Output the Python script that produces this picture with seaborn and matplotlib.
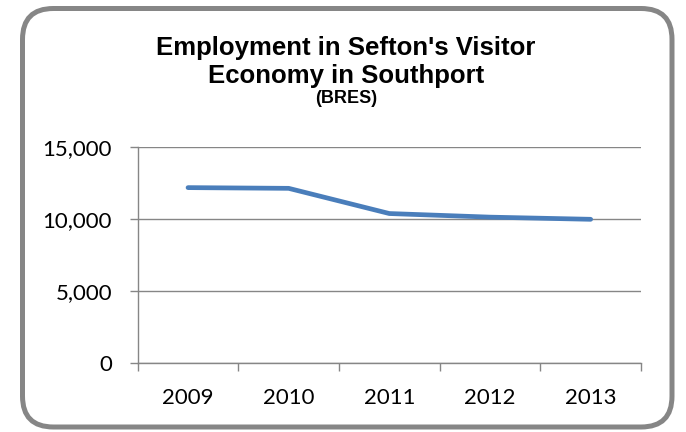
import matplotlib
matplotlib.use("Agg")
import matplotlib.pyplot as plt
from matplotlib.patches import FancyBboxPatch
from matplotlib.ticker import FuncFormatter, FixedLocator
import seaborn as sns
import pandas as pd

# Employment in the visitor economy, Southport (BRES)
years = ["2009", "2010", "2011", "2012", "2013"]
employment = [12200, 12150, 10400, 10150, 10000]
y_ticks = [0, 5000, 10000, 15000]

title_lines = ["Employment in Sefton's Visitor", "Economy in Southport"]
title_sub = "(BRES)"

df = pd.DataFrame({"year": years, "employment": employment})
df["pos"] = range(len(years))

sns.set_style("white")
plt.rcParams["font.family"] = ["Lato", "DejaVu Sans"]

GRAY = "#868686"
BLUE = "#4A7EBB"
W, H = 686, 432

fig = plt.figure(figsize=(W / 100, H / 100), dpi=100)
ax = fig.add_axes([137.7 / W, 1 - 363.3 / H, (641 - 137.7) / W, (363.3 - 147.3) / H])

sns.lineplot(data=df, x="pos", y="employment", ax=ax, color=BLUE,
             linewidth=3.4, solid_capstyle="round", solid_joinstyle="round")

ax.set_xlim(-0.5, len(years) - 0.5)
ax.set_ylim(0, 15000)
ax.set_xlabel("")
ax.set_ylabel("")

# category labels centred, tick marks on the category boundaries
ax.xaxis.set_major_locator(FixedLocator(range(len(years))))
ax.set_xticklabels(years)
ax.xaxis.set_minor_locator(FixedLocator([i - 0.5 for i in range(len(years) + 1)]))
ax.tick_params(axis="x", which="major", length=0, pad=18, labelsize=16, labelcolor="black")
ax.tick_params(axis="x", which="minor", length=5.5, width=1, color=GRAY, direction="out", bottom=True)

ax.set_yticks(y_ticks)
ax.yaxis.set_major_formatter(FuncFormatter(lambda v, _: f"{int(v):,}"))
ax.tick_params(axis="y", which="major", length=5.5, width=1, color=GRAY, direction="out",
               left=True, pad=13, labelsize=16, labelcolor="black")

ax.grid(axis="y", color=GRAY, linewidth=1)
ax.grid(axis="x", visible=False)
ax.set_axisbelow(True)

for side in ("top", "right"):
    ax.spines[side].set_visible(False)
for side in ("left", "bottom"):
    ax.spines[side].set_color(GRAY)
    ax.spines[side].set_linewidth(1)

# titles
title_font = ["Liberation Sans", "DejaVu Sans"]
for line, base in zip(title_lines, (55.5, 82.5)):
    fig.text(346 / W, 1 - base / H, line, ha="center", va="baseline", fontsize=18.5,
             fontweight="bold", family=title_font, color="black")
fig.text(346 / W, 1 - 103 / H, title_sub, ha="center", va="baseline", fontsize=13,
         fontweight="bold", family=title_font, color="black")

# rounded chart border
border = FancyBboxPatch((22.5 / W, 1 - 427 / H), (672 - 22.5) / W, (427 - 8.5) / H,
                        boxstyle="round,pad=0,rounding_size=0.045",
                        transform=fig.transFigure, facecolor="none",
                        edgecolor=GRAY, linewidth=3.6, mutation_aspect=W / H)
fig.patches.append(border)

fig.savefig("out.png", dpi=100, facecolor="white")
